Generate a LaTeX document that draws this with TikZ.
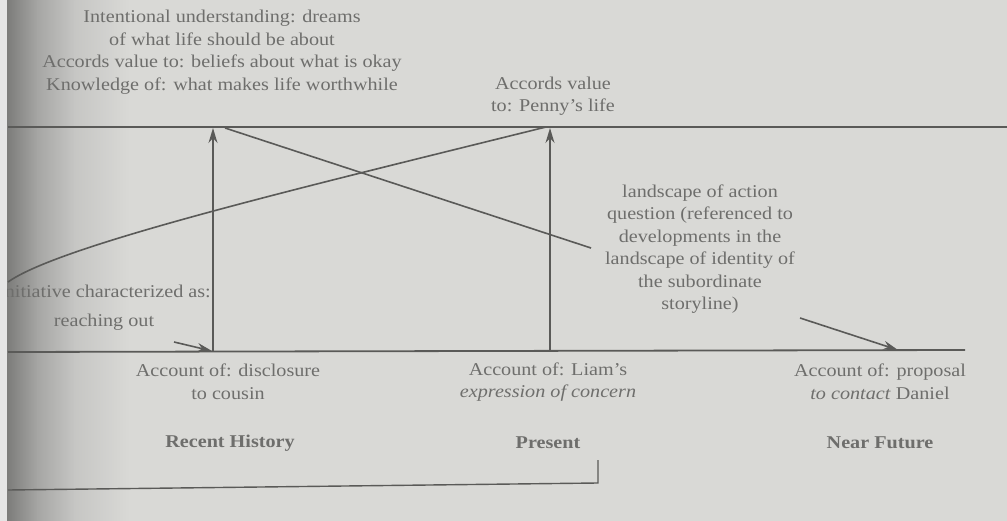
\documentclass[tikz,border=0pt]{standalone}
\usepackage{fontspec}
\setmainfont{Liberation Serif}[FakeStretch=1.12]
\usetikzlibrary{arrows.meta}
\definecolor{paper}{HTML}{D9D9D6}
\definecolor{shadeA}{HTML}{7C7C7A}
\definecolor{shadeB}{HTML}{A6A6A4}
\definecolor{shadeC}{HTML}{C6C6C4}
\definecolor{ink}{HTML}{6E6E6C}
\definecolor{rule}{HTML}{5A5A58}
\tikzset{
  lbl/.style={text=ink, font=\fontsize{18}{22.5}\selectfont, align=center, inner sep=0pt},
  era/.style={text=ink, font=\fontsize{18}{22.5}\selectfont\bfseries, inner sep=0pt},
  axis/.style={draw=rule, line width=1.8pt},
  link/.style={draw=rule, line width=1.6pt},
  up/.style={draw=rule, line width=1.6pt, -{Stealth[length=15pt,width=9pt]}},
}
\begin{document}
\begin{tikzpicture}[x=1pt,y=-1pt]
  % page with the shadow of the binding edge
  \fill[paper] (0,0) rectangle (1007,521);
  \useasboundingbox (0,0) rectangle (1007,521);
  \shade[left color=shadeA, right color=shadeB] (7,0) rectangle (38,521);
  \shade[left color=shadeB, right color=shadeC] (37.5,0) rectangle (75,521);
  \shade[left color=shadeC, right color=paper] (74.5,0) rectangle (130,521);

  % landscape of consciousness (top) and landscape of action (bottom)
  \coordinate (topL) at (8,127);
  \coordinate (topR) at (1007,127);
  \coordinate (botL) at (8,352);
  \coordinate (botR) at (965,350);
  \draw[axis] (topL) -- (topR);
  \draw[axis] (botL) -- (botR);

  % texts above the top line
  \node[lbl] (intent) at (222,52) {Intentional understanding: dreams\\of what life should be about\\Accords value to: beliefs about what is okay\\Knowledge of: what makes life worthwhile};
  \node[lbl] (penny) at (553,96) {Accords value\\to: Penny's life};

  % question box
  \node[lbl] (question) at (700,249) {landscape of action\\question (referenced to\\developments in the\\landscape of identity of\\the subordinate\\storyline)};

  % initiative
  \node[lbl, anchor=east] (init) at (211,291) {Initiative characterized as:};
  \node[lbl] (reach) at (104,322) {reaching out};

  % accounts under the bottom line
  \node[lbl] (acc1) at (228,382) {Account of: disclosure\\to cousin};
  \node[lbl] (acc2) at (548,382) {Account of: Liam's\\\textit{expression of concern}};
  \node[lbl] (acc3) at (880,382) {Account of: proposal\\\textit{to contact} Daniel};

  % time periods
  \node[era] (recent) at (230,443) {Recent History};
  \node[era] (present) at (548,443) {Present};
  \node[era] (future) at (880,443) {Near Future};

  % vertical arrows
  \coordinate (b1) at (213,351);
  \coordinate (t1) at (213,128);
  \coordinate (b2) at (550,350);
  \coordinate (t2) at (550,128);
  \draw[up] (b1) -- (t1);
  \draw[up] (b2) -- (t2);

  % crossing lines
  \coordinate (x1) at (225,128);
  \coordinate (x1e) at (591,248);
  \draw[link] (x1) -- (x1e);
  \coordinate (c0) at (8,282);
  \coordinate (c1) at (546,127);
  \draw[link] (c0) .. controls (60,245) and (300,188) .. (c1);

  % small arrows onto the bottom line
  \coordinate (s1) at (174,342);
  \coordinate (s1e) at (212,351);
  \draw[up] (s1) -- (s1e);
  \coordinate (s2) at (800,318);
  \coordinate (s2e) at (898,350);
  \draw[up] (s2) -- (s2e);

  % bracket under Recent History and Present
  \coordinate (k0) at (8,490);
  \coordinate (k1) at (598,483);
  \coordinate (k2) at (598,460);
  \draw[link, line width=1.4pt] (k0) -- (k1) -- (k2);

  % page edge
  \fill[white!90!black] (0,0) rectangle (7,521);
\end{tikzpicture}
\end{document}
